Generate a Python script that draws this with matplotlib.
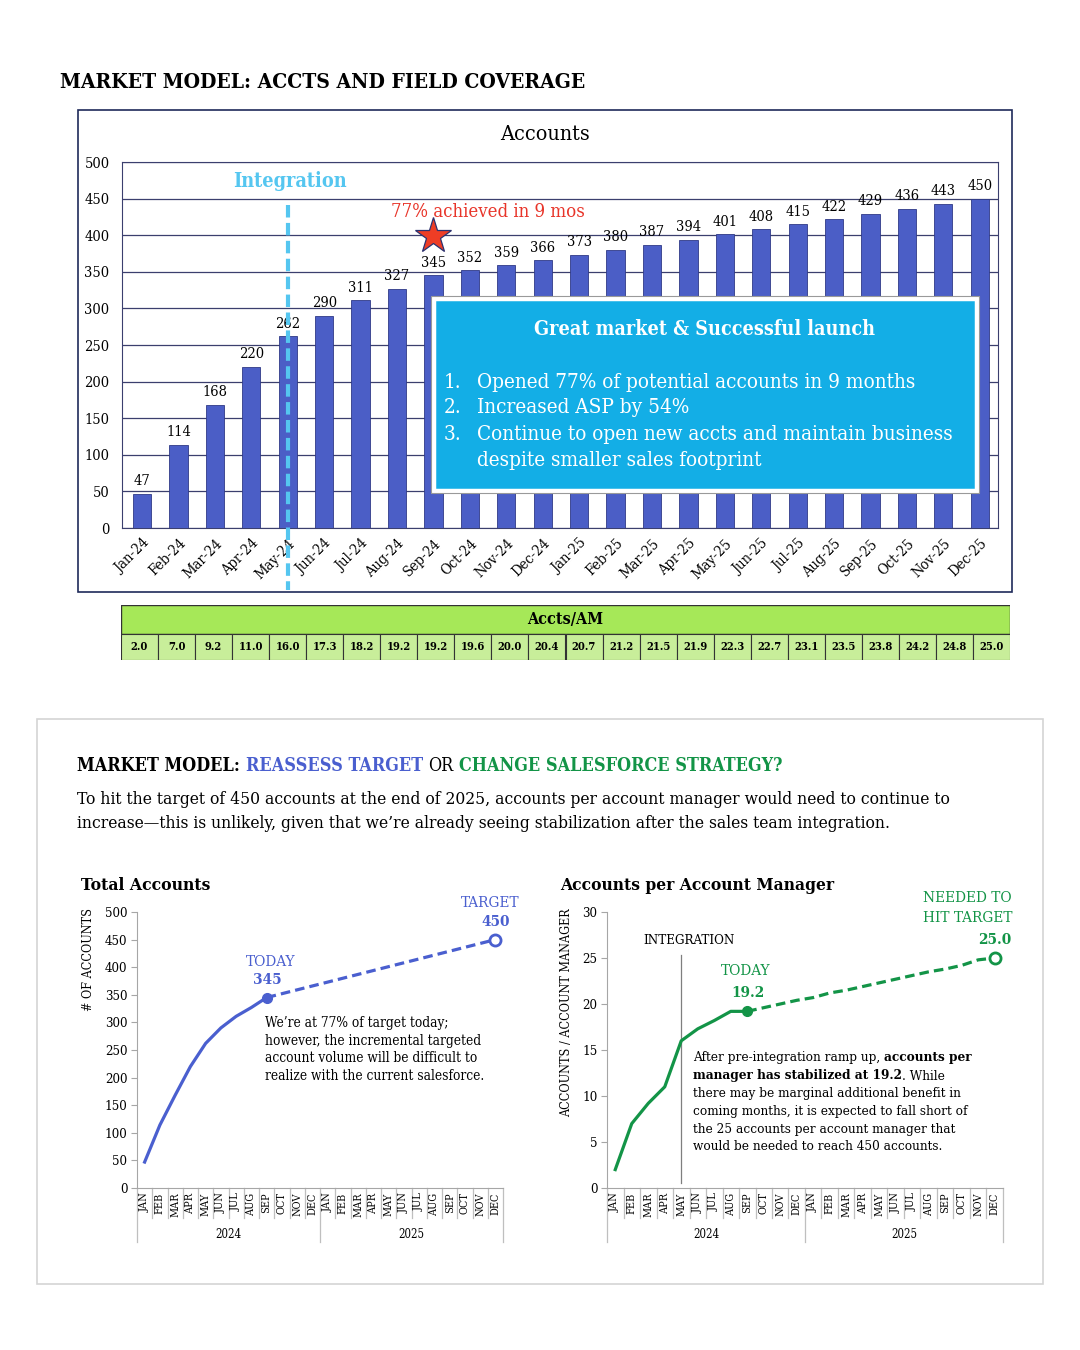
import matplotlib
matplotlib.use('Agg')
import matplotlib.pyplot as plt
from matplotlib.patches import Rectangle
import numpy as np

# ---- data ----
months = ['Jan-24', 'Feb-24', 'Mar-24', 'Apr-24', 'May-24', 'Jun-24', 'Jul-24', 'Aug-24',
          'Sep-24', 'Oct-24', 'Nov-24', 'Dec-24', 'Jan-25', 'Feb-25', 'Mar-25', 'Apr-25',
          'May-25', 'Jun-25', 'Jul-25', 'Aug-25', 'Sep-25', 'Oct-25', 'Nov-25', 'Dec-25']
accounts = [47, 114, 168, 220, 262, 290, 311, 327, 345, 352, 359, 366,
            373, 380, 387, 394, 401, 408, 415, 422, 429, 436, 443, 450]
accts_per_am = [2.0, 7.0, 9.2, 11.0, 16.0, 17.3, 18.2, 19.2, 19.2, 19.6, 20.0, 20.4,
                20.7, 21.2, 21.5, 21.9, 22.3, 22.7, 23.1, 23.5, 23.8, 24.2, 24.8, 25.0]
month_abbr = ['JAN', 'FEB', 'MAR', 'APR', 'MAY', 'JUN', 'JUL', 'AUG', 'SEP', 'OCT', 'NOV', 'DEC']
years = ['2024', '2025']
today_idx = 8
integration_idx = 4
box_items = ['Opened 77% of potential accounts in 9 months',
             'Increased ASP by 54%',
             'Continue to open new accts and maintain business',
             'despite smaller sales footprint']

BAR = '#4B5EC6'
NAVY = '#3B3F6E'
BLUE = '#4A5FCF'
GREEN = '#139447'
LIGHTBLUE = '#55C6F0'

plt.rcParams['font.family'] = 'DejaVu Serif'
plt.rcParams['font.stretch'] = 'condensed'

W, H = 1080, 1350
fig = plt.figure(figsize=(W / 100, H / 100), dpi=100)
fig.patch.set_facecolor('white')
rend = fig.canvas.get_renderer()


def box(x0, y0, x1, y1):
    # pixel box (top-left origin) -> figure fraction rect
    return [x0 / W, 1 - y1 / H, (x1 - x0) / W, (y1 - y0) / H]


def put(x, y, s, **kw):
    kw.setdefault('va', 'center')
    return fig.text(x / W, 1 - y / H, s, **kw)


def fit(t, width):
    w = t.get_window_extent(rend).width
    t.set_fontsize(t.get_fontsize() * width / w)
    return t.get_fontsize()


def runs(x, y, parts, size, target=None):
    # parts: (text, color, weight, space_after)
    def place(sz):
        objs, cx = [], x
        for txt, col, wt, sp in parts:
            t = put(cx, y, txt, color=col, fontweight=wt, fontsize=sz)
            objs.append(t)
            cx += t.get_window_extent(rend).width
            if sp:
                a = put(0, 0, 'a a', fontweight=wt, fontsize=sz)
                b = put(0, 0, 'aa', fontweight=wt, fontsize=sz)
                cx += a.get_window_extent(rend).width - b.get_window_extent(rend).width
                a.remove(); b.remove()
        return objs, cx - x
    objs, w = place(size)
    if target:
        for t in objs:
            t.remove()
        objs, w = place(size * target / w)
    return objs


# =============== TOP PANEL ===============
t = put(60, 82, 'MARKET MODEL: ACCTS AND FIELD COVERAGE', fontsize=15, fontweight='bold')
fit(t, 526)

fig.add_artist(Rectangle((78 / W, 1 - 592 / H), (1012 - 78) / W, (592 - 110) / H,
                         transform=fig.transFigure, fill=False, edgecolor='#1F2A5A', lw=1.2))
t = put(545, 134, 'Accounts', fontsize=13, ha='center')
fit(t, 89)

ax = fig.add_axes(box(122, 162, 998, 528))
x = np.arange(len(months))
ax.bar(x, accounts, width=0.5, color=BAR, edgecolor='#2F3A86', linewidth=0.6, zorder=3)
ax.set_xlim(-0.55, 23.5)
ax.set_ylim(0, 500)
ax.set_yticks(range(0, 501, 50))
ax.yaxis.grid(True, color=NAVY, lw=0.9, zorder=0)
ax.set_axisbelow(True)
for s in ax.spines.values():
    s.set_color(NAVY)
ax.tick_params(axis='y', length=0, labelsize=10.5, pad=9)
ax.set_xticks(x)
ax.set_xticklabels(months, rotation=45, ha='right', rotation_mode='anchor')
ax.tick_params(axis='x', length=0, labelsize=10.5, pad=6)
for xi, v in zip(x, accounts):
    ax.annotate(str(v), (xi, v), xytext=(0, 4), textcoords='offset points',
                ha='center', va='bottom', fontsize=10.5, zorder=4)

# integration marker line (runs below the axis down to the frame)
ax.plot([integration_idx, integration_idx], [441, -85], color=LIGHTBLUE, lw=3,
        dashes=(3, 1.3), clip_on=False, zorder=6)
t = put(290, 181, 'Integration', color=LIGHTBLUE, fontweight='bold', fontsize=12, ha='center')
fit(t, 114)
t = put(488, 212, '77% achieved in 9 mos', color='#E8352A', fontsize=11, ha='center')
fit(t, 193)
ax.plot(today_idx, 399, marker='*', ms=27, color='#EE3D25', mec='#2B3270', mew=0.9,
        clip_on=False, zorder=7)

# call-out box
fig.add_artist(Rectangle((431 / W, 1 - 493 / H), (979 - 431) / W, (493 - 296) / H,
                         transform=fig.transFigure, facecolor='white', edgecolor='#9A9A9A', lw=0.8))
fig.add_artist(Rectangle((434 / W, 1 - 490 / H), (976 - 434) / W, (490 - 299) / H,
                         transform=fig.transFigure, facecolor='#13AEE6', edgecolor='white', lw=2.5))
t = put(705, 329, 'Great market & Successful launch', color='white', fontweight='bold',
        fontsize=13, ha='center')
fit(t, 338)
first = put(477, 382, box_items[0], color='white', fontsize=13)
sz = fit(first, 439)
for i, (yy, item) in enumerate(zip([382, 408, 435, 461], box_items)):
    if i > 0:
        put(477, yy, item, color='white', fontsize=sz)
    if i < 3:
        put(444, yy, f'{i + 1}.', color='white', fontsize=sz)

# Accts/AM table
tab = fig.add_axes(box(121, 605, 1010, 660))
tab.set_xlim(0, len(accts_per_am))
tab.set_ylim(0, 55)
tab.axis('off')
tab.add_patch(Rectangle((0, 26), len(accts_per_am), 29, facecolor='#A6E858',
                        edgecolor='#333333', lw=1))
t = tab.text(len(accts_per_am) / 2, 40.5, 'Accts/AM', ha='center', va='center',
             fontsize=11, fontweight='bold')
fit(t, 76)
for i, v in enumerate(accts_per_am):
    tab.add_patch(Rectangle((i, 0), 1, 26, facecolor='#C8EE9A', edgecolor='#333333', lw=0.8))
    tab.text(i + 0.5, 13, f'{v:.1f}', ha='center', va='center', fontsize=8, fontweight='bold')

# =============== BOTTOM PANEL ===============
fig.add_artist(Rectangle((37 / W, 1 - 1284 / H), (1043 - 37) / W, (1284 - 719) / H,
                         transform=fig.transFigure, fill=False, edgecolor='#D4D4D4', lw=1.2))
runs(77, 766, [('MARKET MODEL:', 'black', 'bold', True),
               ('REASSESS TARGET', BLUE, 'bold', True),
               ('OR', 'black', 'normal', True),
               ('CHANGE SALESFORCE STRATEGY?', GREEN, 'bold', False)], 12, target=703)
p1 = put(77, 800, 'To hit the target of 450 accounts at the end of 2025, accounts per '
         'account manager would need to continue to', fontsize=10)
psz = fit(p1, 875)
put(77, 823, 'increase\u2014this is unlikely, given that we\u2019re already seeing '
    'stabilization after the sales team integration.', fontsize=psz)

t = put(81, 885, 'Total Accounts', fontweight='bold', fontsize=12)
fit(t, 130)
t = put(560, 885, 'Accounts per Account Manager', fontweight='bold', fontsize=12)
fit(t, 274)


def month_axis(a):
    a.set_xlim(-0.5, 23.5)
    a.set_xticks([])
    for side in ['top', 'right']:
        a.spines[side].set_visible(False)
    a.spines['left'].set_color('#A6A6A6')
    a.spines['bottom'].set_color('#A6A6A6')
    a.tick_params(axis='y', length=4, color='#A6A6A6', labelsize=9.5, pad=3)
    tr = a.get_xaxis_transform()
    for i, m in enumerate(month_abbr * len(years)):
        a.text(i, -0.016, m, rotation=90, ha='center', va='top', fontsize=7.8, transform=tr)
    for b in np.arange(-0.5, 24, 1):
        depth = -0.196 if b in (-0.5, 11.5, 23.5) else -0.11
        a.plot([b, b], [0, depth], transform=tr, clip_on=False, color='#BFBFBF', lw=0.9)
    for k, yr in enumerate(years):
        a.text(5.5 + 12 * k, -0.17, yr, ha='center', va='center', fontsize=8.3, transform=tr)


# left: total accounts
al = fig.add_axes(box(137, 912, 503, 1188))
month_axis(al)
al.set_ylim(0, 500)
al.set_yticks(range(0, 501, 50))
al.plot(x[:today_idx + 1], accounts[:today_idx + 1], color=BLUE, lw=2.3)
al.plot(x[today_idx:], accounts[today_idx:], color=BLUE, lw=2.3, dashes=(3, 1.6))
al.plot(today_idx, accounts[today_idx], 'o', ms=7, color=BLUE)
al.plot(x[-1], accounts[-1], 'o', ms=8, mfc='white', mec=BLUE, mew=2, clip_on=False)
t = put(88, 908, '# OF ACCOUNTS', rotation=90, ha='center', va='top', fontsize=9)
put(271, 962, 'TODAY', color=BLUE, fontsize=11, ha='center')
put(267, 980, str(accounts[today_idx]), color=BLUE, fontsize=11, fontweight='bold', ha='center')
put(490, 903, 'TARGET', color=BLUE, fontsize=11, ha='center')
put(496, 922, str(accounts[-1]), color=BLUE, fontsize=11, fontweight='bold', ha='center')
la = ['We\u2019re at 77% of target today;',
      'however, the incremental targeted',
      'account volume will be difficult to',
      'realize with the current salesforce.']
t = put(265, 1023, la[0], fontsize=9)
asz = fit(t, 183)
for yy, s in zip([1041, 1058, 1076], la[1:]):
    put(265, yy, s, fontsize=asz)

# right: accounts per account manager
ar = fig.add_axes(box(607, 912, 1003, 1188))
month_axis(ar)
ar.set_ylim(0, 30)
ar.set_yticks(range(0, 31, 5))
ar.plot([integration_idx, integration_idx], [0.5, 25.3], color='#7F7F7F', lw=0.9)
ar.plot(x[:today_idx + 1], accts_per_am[:today_idx + 1], color=GREEN, lw=2.3)
ar.plot(x[today_idx:], accts_per_am[today_idx:], color=GREEN, lw=2.3, dashes=(3, 1.6))
ar.plot(today_idx, accts_per_am[today_idx], 'o', ms=7, color=GREEN)
ar.plot(x[-1], accts_per_am[-1], 'o', ms=8, mfc='white', mec=GREEN, mew=2, clip_on=False)
put(567, 908, 'ACCOUNTS / ACCOUNT MANAGER', rotation=90, ha='center', va='top', fontsize=9)
t = put(643, 941, 'INTEGRATION', fontsize=9.5)
fit(t, 92)
put(746, 971, 'TODAY', color=GREEN, fontsize=11, ha='center')
put(748, 993, f'{accts_per_am[today_idx]:.1f}', color=GREEN, fontsize=11,
    fontweight='bold', ha='center')
put(923, 898, 'NEEDED TO', color=GREEN, fontsize=11)
put(923, 918, 'HIT TARGET', color=GREEN, fontsize=11)
put(995, 940, f'{accts_per_am[-1]:.1f}', color=GREEN, fontsize=11, fontweight='bold', ha='center')

objs = runs(693, 1058, [('After pre-integration ramp up,', 'black', 'normal', True),
                        ('accounts per', 'black', 'bold', False)], 9, target=279)
rsz = objs[0].get_fontsize()
runs(693, 1076, [('manager has stabilized at 19.2', 'black', 'bold', False),
                 ('. While', 'black', 'normal', False)], rsz)
for yy, s in zip([1093, 1111, 1129, 1146],
                 ['there may be marginal additional benefit in',
                  'coming months, it is expected to fall short of',
                  'the 25 accounts per account manager that',
                  'would be needed to reach 450 accounts.']):
    put(693, yy, s, fontsize=rsz)

fig.savefig('out.png', dpi=100)
